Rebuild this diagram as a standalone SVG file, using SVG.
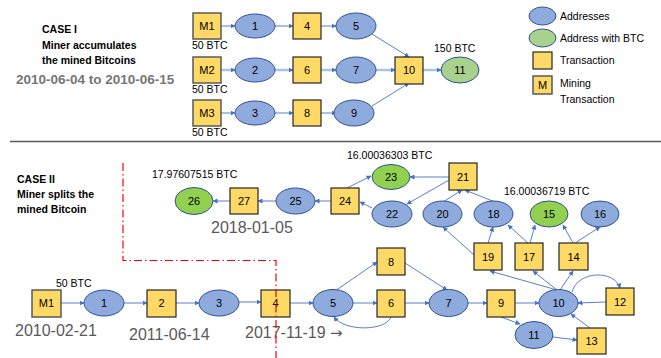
<svg xmlns="http://www.w3.org/2000/svg" width="661" height="358" viewBox="0 0 661 358">
<style>
text{font-family:"Liberation Sans",Arial,sans-serif;fill:#000}
.lbl{font-size:11px;text-anchor:middle;dominant-baseline:central}
.addr{fill:#8faadc;stroke:#2f528f;stroke-width:1}
.grn{fill:#92d050;stroke:#2f528f;stroke-width:1}
.grn2{fill:#a9d18e;stroke:#2f528f;stroke-width:1}
.tx{fill:#ffd966;stroke:#262626;stroke-width:1.2}
.mt{fill:#ffd966;stroke:#595959;stroke-width:1.5}
.e{fill:none;stroke:#4472c4;stroke-width:0.9;marker-end:url(#ah)}
.et{fill:none;stroke:#a9c4ec;stroke-width:2.5;marker-end:url(#ah)}
.small{font-size:10.5px}
.bold{font-size:10.5px;font-weight:bold}
.date{font-size:16px;fill:#595959}
</style>
<defs>
<marker id="ah" viewBox="0 0 10 10" refX="9" refY="5" markerWidth="5" markerHeight="5" markerUnits="userSpaceOnUse" orient="auto">
<path d="M0,0 L10,5 L0,10 z" fill="#4472c4"/>
</marker>
</defs>

<!-- Case I texts -->
<text class="bold" x="42" y="33">CASE I</text>
<text class="bold" x="42" y="49">Miner accumulates</text>
<text class="bold" x="42" y="64">the mined Bitcoins</text>
<text x="16" y="84" style="font-size:13.5px;font-weight:bold;fill:#767676">2010-06-04 to 2010-06-15</text>
<text class="small" x="192" y="49">50 BTC</text>
<text class="small" x="192" y="93">50 BTC</text>
<text class="small" x="192" y="136">50 BTC</text>
<text class="small" x="434" y="52">150 BTC</text>

<!-- Case I connectors -->
<g id="connectors1">
<path class="e" d="M221,26 L235,26"/>
<path class="e" d="M275,26 L293,26"/>
<path class="e" d="M321,26 L336,26"/>
<path class="e" d="M372,34 L409,57"/>
<path class="et" d="M221,70 L235,70"/>
<path class="et" d="M275,70 L293,70"/>
<path class="et" d="M321,70 L336,70"/>
<path class="et" d="M375,70 L395,70"/>
<path class="et" d="M423,70 L441,70"/>
<path class="e" d="M221,113 L235,113"/>
<path class="e" d="M275,113 L293,113"/>
<path class="e" d="M321,113 L336,113"/>
<path class="e" d="M372,106 L409,83"/>
</g>

<!-- Case I nodes -->
<g id="c1-M1"><rect class="mt" x="193" y="13" width="28" height="26"/><text class="lbl" x="207" y="26">M1</text></g>
<g id="c1-M2"><rect class="mt" x="193" y="57" width="28" height="26"/><text class="lbl" x="207" y="70">M2</text></g>
<g id="c1-M3"><rect class="mt" x="193" y="100" width="28" height="26"/><text class="lbl" x="207" y="113">M3</text></g>
<g id="c1-1"><ellipse class="addr" cx="255" cy="26" rx="20" ry="12"/><text class="lbl" x="255" y="26">1</text></g>
<g id="c1-2"><ellipse class="addr" cx="255" cy="70" rx="20" ry="12"/><text class="lbl" x="255" y="70">2</text></g>
<g id="c1-3"><ellipse class="addr" cx="255" cy="113" rx="20" ry="12"/><text class="lbl" x="255" y="113">3</text></g>
<g id="c1-4"><rect class="tx" x="293" y="13" width="28" height="26"/><text class="lbl" x="307" y="26">4</text></g>
<g id="c1-6"><rect class="tx" x="293" y="57" width="28" height="26"/><text class="lbl" x="307" y="70">6</text></g>
<g id="c1-8"><rect class="tx" x="293" y="100" width="28" height="26"/><text class="lbl" x="307" y="113">8</text></g>
<g id="c1-5"><ellipse class="addr" cx="356" cy="26" rx="20" ry="13"/><text class="lbl" x="356" y="26">5</text></g>
<g id="c1-7"><ellipse class="addr" cx="356" cy="70" rx="20" ry="13"/><text class="lbl" x="356" y="70">7</text></g>
<g id="c1-9"><ellipse class="addr" cx="354" cy="113" rx="20" ry="13"/><text class="lbl" x="354" y="113">9</text></g>
<g id="c1-10"><rect class="tx" x="395" y="57" width="28" height="27"/><text class="lbl" x="409" y="70">10</text></g>
<g id="c1-11"><ellipse class="grn2" cx="460" cy="70" rx="19" ry="13"/><text class="lbl" x="460" y="70">11</text></g>

<!-- Legend -->
<g id="legend">
<ellipse class="addr" cx="542.5" cy="16" rx="13.5" ry="9"/>
<text class="small" x="560" y="20">Addresses</text>
<ellipse class="grn2" cx="542.5" cy="38" rx="13.5" ry="9"/>
<text class="small" x="560" y="42">Address with BTC</text>
<rect class="tx" x="533" y="52" width="19" height="17"/>
<text class="small" x="560" y="64">Transaction</text>
<rect class="mt" x="533" y="76" width="19" height="18"/>
<text class="lbl" x="542.5" y="85">M</text>
<text class="small" x="560" y="87">Mining</text>
<text class="small" x="560" y="103">Transaction</text>
</g>

<!-- Separator -->
<line x1="10" y1="141.5" x2="661" y2="141.5" stroke="#595959" stroke-width="1.5"/>

<!-- Case II texts -->
<text class="bold" x="17" y="183">CASE II</text>
<text class="bold" x="17" y="198">Miner splits the</text>
<text class="bold" x="17" y="213">mined Bitcoin</text>
<text class="small" x="152" y="178">17.97607515 BTC</text>
<text class="small" x="347" y="159">16.00036303 BTC</text>
<text class="small" x="504" y="195">16.00036719 BTC</text>
<text class="small" x="56" y="287">50 BTC</text>
<text class="date" x="211" y="233">2018-01-05</text>
<text class="date" x="15" y="336">2010-02-21</text>
<text class="date" x="129" y="340">2011-06-14</text>
<text class="date" x="245" y="338">2017-11-19 <tspan style="font-family:'DejaVu Sans',sans-serif;font-size:15px">→</tspan></text>

<!-- Case II connectors -->
<g id="connectors2">
<path class="e" d="M61,303 L84,303"/>
<path class="e" d="M124,303 L147,303"/>
<path class="e" d="M176,303 L199,303"/>
<path class="e" d="M239,302 L261,302"/>
<path class="e" d="M290,303 L313,303"/>
<path class="e" d="M335,291 L377,262"/>
<path class="e" d="M353,303 L377,303"/>
<path class="e" d="M391,317 C386,331 345,332 334,317"/>
<path class="e" d="M405,263 L447,290"/>
<path class="e" d="M405,303 L429,303"/>
<path class="e" d="M468,303 L487,303"/>
<path class="e" d="M515,303 L539,303"/>
<path class="e" d="M501,317 L520,324"/>
<path class="e" d="M553,337 L577,340"/>
<path class="e" d="M590,328 L571,314"/>
<path class="e" d="M606,302 L578,303"/>
<path class="e" d="M572,292 C578,270 615,270 620,288"/>
<path class="e" d="M557,290 L490,271"/>
<path class="e" d="M557,290 L533,271"/>
<path class="e" d="M560,290 L573,271"/>
<path class="e" d="M488,243 L493,227"/>
<path class="e" d="M474,255 L443,227"/>
<path class="e" d="M528,243 L508,225"/>
<path class="e" d="M530,243 L535,225"/>
<path class="e" d="M573,243 L563,225"/>
<path class="e" d="M575,243 L600,227"/>
<path class="e" d="M443,202 L462,190"/>
<path class="e" d="M495,202 L465,190"/>
<path class="e" d="M449,177 L410,177"/>
<path class="e" d="M449,180 L407,204"/>
<path class="e" d="M372,208 L360,202"/>
<path class="e" d="M347,188 L371,176"/>
<path class="e" d="M331,201 L315,201"/>
<path class="e" d="M276,201 L258,201"/>
<path class="e" d="M230,201 L213,201"/>
</g>

<!-- Case II nodes -->
<g id="c2-M1"><rect class="mt" x="32" y="290" width="29" height="27"/><text class="lbl" x="46.5" y="303">M1</text></g>
<g id="c2-1"><ellipse class="addr" cx="104" cy="303" rx="20" ry="13"/><text class="lbl" x="104" y="303">1</text></g>
<g id="c2-2"><rect class="tx" x="147" y="290" width="29" height="27"/><text class="lbl" x="161.5" y="303">2</text></g>
<g id="c2-3"><ellipse class="addr" cx="219" cy="303" rx="20" ry="13"/><text class="lbl" x="219" y="303">3</text></g>
<g id="c2-4"><rect class="tx" x="261" y="290" width="29" height="27"/><text class="lbl" x="275.5" y="303">4</text></g>
<g id="c2-5"><ellipse class="addr" cx="333" cy="303" rx="20" ry="13.5"/><text class="lbl" x="333" y="303">5</text></g>
<g id="c2-6"><rect class="tx" x="377" y="290" width="28" height="27"/><text class="lbl" x="391" y="303">6</text></g>
<g id="c2-8"><rect class="tx" x="377" y="248" width="28" height="27"/><text class="lbl" x="391" y="262">8</text></g>
<g id="c2-7"><ellipse class="addr" cx="448.5" cy="303" rx="19.5" ry="13.5"/><text class="lbl" x="448.5" y="303">7</text></g>
<g id="c2-9"><rect class="tx" x="487" y="290" width="28" height="27"/><text class="lbl" x="501" y="303">9</text></g>
<g id="c2-10"><ellipse class="addr" cx="558.5" cy="303" rx="19.5" ry="13.5"/><text class="lbl" x="558.5" y="303">10</text></g>
<g id="c2-11"><ellipse class="addr" cx="534" cy="335" rx="19" ry="13.5"/><text class="lbl" x="534" y="335">11</text></g>
<g id="c2-12"><rect class="tx" x="606" y="288" width="28" height="27"/><text class="lbl" x="620" y="301.5">12</text></g>
<g id="c2-13"><rect class="tx" x="577" y="328" width="29" height="26"/><text class="lbl" x="591.5" y="341">13</text></g>
<g id="c2-19"><rect class="tx" x="474" y="243" width="28" height="27"/><text class="lbl" x="488" y="256.5">19</text></g>
<g id="c2-17"><rect class="tx" x="515" y="243" width="28" height="27"/><text class="lbl" x="529" y="256.5">17</text></g>
<g id="c2-14"><rect class="tx" x="559" y="243" width="29" height="27"/><text class="lbl" x="573.5" y="256.5">14</text></g>
<g id="c2-20"><ellipse class="addr" cx="442.5" cy="214" rx="19.5" ry="13"/><text class="lbl" x="442.5" y="214">20</text></g>
<g id="c2-18"><ellipse class="addr" cx="493.5" cy="214" rx="19.5" ry="13"/><text class="lbl" x="493.5" y="214">18</text></g>
<g id="c2-15"><ellipse class="grn" cx="549" cy="214" rx="19" ry="13"/><text class="lbl" x="549" y="214">15</text></g>
<g id="c2-16"><ellipse class="addr" cx="600" cy="214" rx="19" ry="13"/><text class="lbl" x="600" y="214">16</text></g>
<g id="c2-21"><rect class="tx" x="449" y="163" width="28" height="27"/><text class="lbl" x="463" y="176.5">21</text></g>
<g id="c2-23"><ellipse class="grn" cx="391" cy="177" rx="19" ry="12.5"/><text class="lbl" x="391" y="177">23</text></g>
<g id="c2-22"><ellipse class="addr" cx="392" cy="214" rx="20" ry="13"/><text class="lbl" x="392" y="214">22</text></g>
<g id="c2-24"><rect class="tx" x="331" y="188" width="28" height="26"/><text class="lbl" x="345" y="201">24</text></g>
<g id="c2-25"><ellipse class="addr" cx="295.5" cy="201" rx="19.5" ry="13"/><text class="lbl" x="295.5" y="201">25</text></g>
<g id="c2-27"><rect class="tx" x="230" y="188" width="28" height="26"/><text class="lbl" x="244" y="201">27</text></g>
<g id="c2-26"><ellipse class="grn" cx="194" cy="201" rx="19" ry="13.5"/><text class="lbl" x="194" y="201">26</text></g>

<!-- Red dash-dot boundary -->
<path d="M123,163 L123,260.5 L276,260.5 L276,358" fill="none" stroke="#ff0000" stroke-width="1.2" stroke-dasharray="8,3,1.5,3"/>
</svg>
